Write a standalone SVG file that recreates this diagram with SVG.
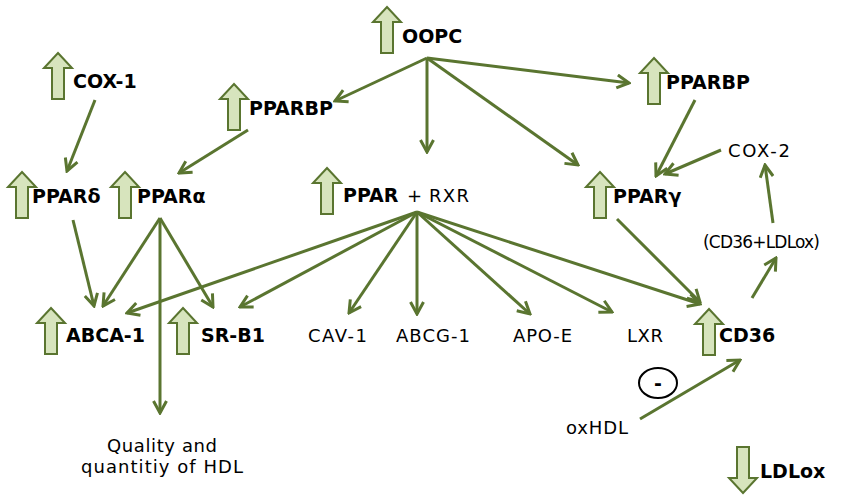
<svg xmlns="http://www.w3.org/2000/svg" width="846" height="496" viewBox="0 0 846 496">
<style>
.b{font-family:"DejaVu Sans","Verdana",sans-serif;font-weight:bold;font-size:19px;fill:#000}
.r{font-family:"DejaVu Sans","Verdana",sans-serif;font-size:18px;fill:#000}
.ic{fill:#d7e4bd;stroke:#5a7530;stroke-width:2;stroke-linejoin:miter}
.c line{stroke:#5a7530;stroke-width:3;marker-end:url(#ah)}
</style>
<defs>
<marker id="ah" markerUnits="userSpaceOnUse" markerWidth="16" markerHeight="16" viewBox="0 0 16 16" refX="14" refY="8" orient="auto">
<path d="M2,1.5 L14,8 L2,14.5" fill="none" stroke="#5a7530" stroke-width="3"/>
</marker>
<path id="up" class="ic" d="M0,0 L14,15 L6,15 L6,46 L-6,46 L-6,15 L-14,15 Z"/>
<path id="down" class="ic" d="M0,0 L14,-15 L6,-15 L6,-46 L-6,-46 L-6,-15 L-14,-15 Z"/>
</defs>
<rect width="846" height="496" fill="#fff"/>

<g class="c" id="connectors">
<line x1="427" y1="58" x2="335" y2="101"/>
<line x1="427" y1="58" x2="427" y2="152"/>
<line x1="427" y1="58" x2="578" y2="165"/>
<line x1="427" y1="58" x2="629" y2="83"/>
<line x1="95" y1="100" x2="67" y2="171"/>
<line x1="248" y1="130" x2="179" y2="173"/>
<line x1="695" y1="100" x2="656" y2="176"/>
<line x1="721" y1="150" x2="665" y2="174"/>
<line x1="773" y1="223" x2="765" y2="165"/>
<line x1="617" y1="219" x2="700" y2="302"/>
<line x1="752" y1="298" x2="776" y2="258"/>
<line x1="640" y1="419" x2="740" y2="360"/>
<line x1="73" y1="220" x2="94" y2="306"/>
<line x1="160" y1="218" x2="103" y2="306"/>
<line x1="160" y1="218" x2="213" y2="307"/>
<line x1="160" y1="218" x2="160" y2="413"/>
<line x1="417" y1="212" x2="127" y2="313"/>
<line x1="417" y1="212" x2="240" y2="307"/>
<line x1="417" y1="212" x2="349" y2="313"/>
<line x1="417" y1="212" x2="417" y2="314"/>
<line x1="417" y1="212" x2="530" y2="314"/>
<line x1="417" y1="212" x2="612" y2="312"/>
<line x1="417" y1="212" x2="700" y2="304"/>
</g>

<g id="oopc"><use href="#up" x="387" y="7"/><text class="b" x="402" y="43">OOPC</text></g>
<g id="cox1"><use href="#up" x="58" y="53"/><text class="b" x="73" y="88">COX-1</text></g>
<g id="pparbp-left"><use href="#up" x="234" y="84"/><text class="b" x="249" y="115">PPARBP</text></g>
<g id="pparbp-right"><use href="#up" x="654" y="58"/><text class="b" x="666" y="89">PPARBP</text></g>
<g id="ppard"><use href="#up" x="22" y="172"/><text class="b" x="32" y="203">PPARδ</text></g>
<g id="ppara"><use href="#up" x="125" y="172"/><text class="b" x="137" y="203">PPARα</text></g>
<g id="ppar-rxr"><use href="#up" x="327" y="168"/><text class="b" x="343" y="202">PPAR</text><text class="r" x="407" y="202">+</text><text class="r" x="429" y="202" textLength="40">RXR</text></g>
<g id="pparg"><use href="#up" x="600" y="172"/><text class="b" x="613" y="203">PPARγ</text></g>
<g id="cox2"><text class="r" x="728" y="157" textLength="62">COX-2</text></g>
<g id="cd36-ldlox"><text class="r" x="703" y="248" style="font-size:17px" textLength="117">(CD36+LDLox)</text></g>
<g id="abca1"><use href="#up" x="51" y="308"/><text class="b" x="66" y="342">ABCA-1</text></g>
<g id="srb1"><use href="#up" x="183" y="308"/><text class="b" x="201" y="342">SR-B1</text></g>
<g id="cav1"><text class="r" x="308" y="342" textLength="59">CAV-1</text></g>
<g id="abcg1"><text class="r" x="396" y="342" textLength="74">ABCG-1</text></g>
<g id="apoe"><text class="r" x="513" y="342" textLength="59">APO-E</text></g>
<g id="lxr"><text class="r" x="627" y="342" textLength="36">LXR</text></g>
<g id="cd36"><use href="#up" x="709" y="309"/><text class="b" x="719" y="342">CD36</text></g>
<g id="minus"><ellipse cx="658" cy="383" rx="19" ry="15" fill="none" stroke="#000" stroke-width="2"/><text class="b" x="658" y="390" text-anchor="middle">-</text></g>
<g id="hdl"><text class="r" x="107" y="452" textLength="110">Quality and</text><text class="r" x="81" y="473" textLength="162">quantitiy of HDL</text></g>
<g id="oxhdl"><text class="r" x="566" y="434" textLength="62">oxHDL</text></g>
<g id="ldlox"><use href="#down" x="743" y="493"/><text class="b" x="760" y="478">LDLox</text></g>
</svg>
